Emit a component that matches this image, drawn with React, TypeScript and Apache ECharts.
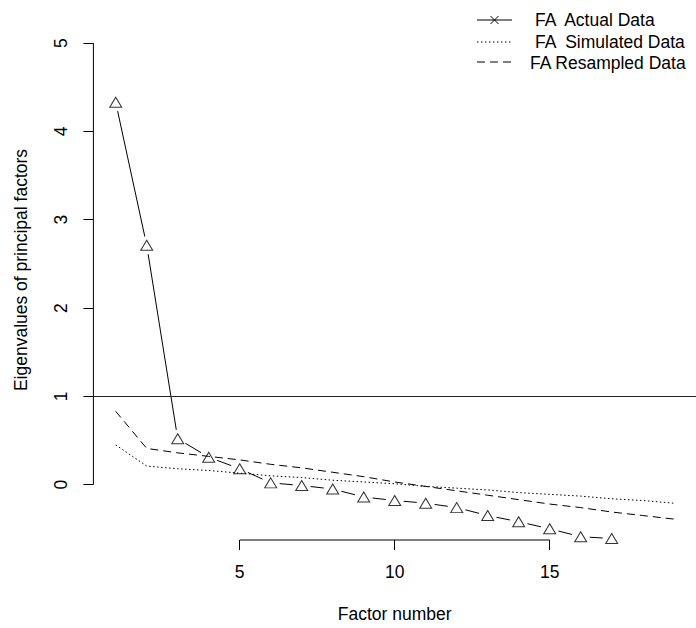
import React, { useEffect, useRef } from "react";
import * as echarts from "echarts";

// ---- data ----
const actualFactors = [1, 2, 3, 4, 5, 6, 7, 8, 9, 10, 11, 12, 13, 14, 15, 16, 17];
const actualValues = [4.33, 2.71, 0.52, 0.31, 0.18, 0.02, -0.01, -0.05, -0.14, -0.18, -0.21, -0.26, -0.35, -0.42, -0.5, -0.59, -0.61];
const simFactors = [1, 2, 3, 4, 5, 6, 7, 8, 9, 10, 11, 12, 13, 14, 15, 16, 17, 18, 19];
const simulatedValues = [0.45, 0.21, 0.18, 0.16, 0.13, 0.1, 0.08, 0.05, 0.03, 0.01, -0.02, -0.04, -0.06, -0.09, -0.11, -0.13, -0.16, -0.18, -0.21];
const resampledValues = [0.83, 0.41, 0.36, 0.32, 0.28, 0.23, 0.19, 0.14, 0.09, 0.03, -0.02, -0.07, -0.12, -0.17, -0.22, -0.26, -0.31, -0.35, -0.39];
const xTicks = [5, 10, 15];
const yTicks = [0, 1, 2, 3, 4, 5];
const refLine = 1;
const legendLabels = ["FA  Actual Data", "FA  Simulated Data", "FA Resampled Data"];

const X_MIN = 0.28;
const X_MAX = 19.72;
const Y_MIN = -0.627;
const Y_MAX = 5.488;

const FONT = "'Liberation Sans', Arial, Helvetica, sans-serif";
const FS = 17.5;
const GAP = 9;
const DOT: number[] = [1.5, 2.5];
const DASH: number[] = [8, 5];

export default function App() {
  const ref = useRef<HTMLDivElement>(null);
  useEffect(() => {
    if (!ref.current) return;
    const chart = echarts.init(ref.current, undefined, { renderer: "svg" });

    const segments = actualFactors.slice(0, -1).map((f, i) => [
      f,
      actualValues[i],
      actualFactors[i + 1],
      actualValues[i + 1],
    ]);

    const option: any = {
      animation: false,
      backgroundColor: "#fff",
      grid: { left: 93.4, right: -5.3, top: 0, bottom: 85.7, containLabel: false },
      xAxis: {
        type: "value",
        min: X_MIN,
        max: X_MAX,
        axisLine: { show: false, onZero: false },
        splitLine: { show: false },
        axisTick: { show: true, customValues: xTicks, length: 10, lineStyle: { color: "#000", width: 1 } },
        axisLabel: { customValues: xTicks, margin: 23, fontSize: FS, color: "#000", fontFamily: FONT },
        name: "Factor number",
        nameLocation: "middle",
        nameGap: 65,
        nameTextStyle: { fontSize: FS, color: "#000", fontFamily: FONT },
      },
      yAxis: {
        type: "value",
        min: Y_MIN,
        max: Y_MAX,
        axisLine: { show: false, onZero: false },
        splitLine: { show: false },
        axisTick: { show: true, customValues: yTicks, length: 10, lineStyle: { color: "#000", width: 1 } },
        axisLabel: { customValues: yTicks, margin: 23, rotate: 90, fontSize: FS, color: "#000", fontFamily: FONT },
        name: "Eigenvalues of principal factors",
        nameLocation: "middle",
        nameRotate: 90,
        nameGap: 63,
        nameTextStyle: { fontSize: FS, color: "#000", fontFamily: FONT },
      },
      series: [
        {
          name: "xAxisLine",
          type: "line",
          silent: true,
          clip: false,
          symbol: "none",
          data: [
            [xTicks[0], Y_MIN],
            [xTicks[xTicks.length - 1], Y_MIN],
          ],
          lineStyle: { color: "#000", width: 1 },
        },
        {
          name: "yAxisLine",
          type: "line",
          silent: true,
          clip: false,
          symbol: "none",
          data: [
            [X_MIN, yTicks[0]],
            [X_MIN, yTicks[yTicks.length - 1]],
          ],
          lineStyle: { color: "#000", width: 1 },
          markLine: {
            silent: true,
            symbol: "none",
            label: { show: false },
            lineStyle: { color: "#222", width: 1.2, type: "solid" },
            data: [{ yAxis: refLine }],
          },
        },
        {
          name: "Simulated",
          type: "line",
          symbol: "none",
          data: simFactors.map((f, i) => [f, simulatedValues[i]]),
          lineStyle: { color: "#000", width: 1, type: DOT },
        },
        {
          name: "Resampled",
          type: "line",
          symbol: "none",
          data: simFactors.map((f, i) => [f, resampledValues[i]]),
          lineStyle: { color: "#000", width: 1, type: DASH },
        },
        {
          name: "ActualSegments",
          type: "custom",
          clip: false,
          encode: { x: [0, 2], y: [1, 3] },
          data: segments,
          renderItem: (params: any, api: any) => {
            const p0 = api.coord([api.value(0), api.value(1)]);
            const p1 = api.coord([api.value(2), api.value(3)]);
            const dx = p1[0] - p0[0];
            const dy = p1[1] - p0[1];
            const d = Math.hypot(dx, dy);
            if (d <= 2 * GAP) return null;
            const f = GAP / d;
            return {
              type: "line",
              shape: { x1: p0[0] + dx * f, y1: p0[1] + dy * f, x2: p1[0] - dx * f, y2: p1[1] - dy * f },
              style: { stroke: "#000", lineWidth: 1 },
            };
          },
        },
        {
          name: "Actual",
          type: "scatter",
          symbol: "triangle",
          symbolSize: [12, 10],
          data: actualFactors.map((f, i) => [f, actualValues[i]]),
          itemStyle: { color: "rgba(0,0,0,0)", borderColor: "#000", borderWidth: 1 },
        },
      ],
      graphic: [
        { type: "line", shape: { x1: 477, y1: 20, x2: 512, y2: 20 }, style: { stroke: "#000", lineWidth: 1 } },
        { type: "line", shape: { x1: 490.5, y1: 16, x2: 498.5, y2: 24 }, style: { stroke: "#000", lineWidth: 1 } },
        { type: "line", shape: { x1: 490.5, y1: 24, x2: 498.5, y2: 16 }, style: { stroke: "#000", lineWidth: 1 } },
        { type: "line", shape: { x1: 477, y1: 42, x2: 512, y2: 42 }, style: { stroke: "#000", lineWidth: 1, lineDash: DOT } },
        { type: "line", shape: { x1: 477, y1: 62, x2: 512, y2: 62 }, style: { stroke: "#000", lineWidth: 1, lineDash: DASH } },
        { type: "text", x: 535, y: 20, style: { text: legendLabels[0], font: `${FS}px ${FONT}`, fill: "#000", verticalAlign: "middle", align: "left" } },
        { type: "text", x: 535, y: 42, style: { text: legendLabels[1], font: `${FS}px ${FONT}`, fill: "#000", verticalAlign: "middle", align: "left" } },
        { type: "text", x: 530, y: 63, style: { text: legendLabels[2], font: `${FS}px ${FONT}`, fill: "#000", verticalAlign: "middle", align: "left" } },
      ],
    };
    chart.setOption(option);
    return () => chart.dispose();
  }, []);
  return (
    <div
      ref={ref}
      style={{ position: "fixed", left: 0, top: 0, width: 696, height: 628, background: "#fff" }}
    />
  );
}
